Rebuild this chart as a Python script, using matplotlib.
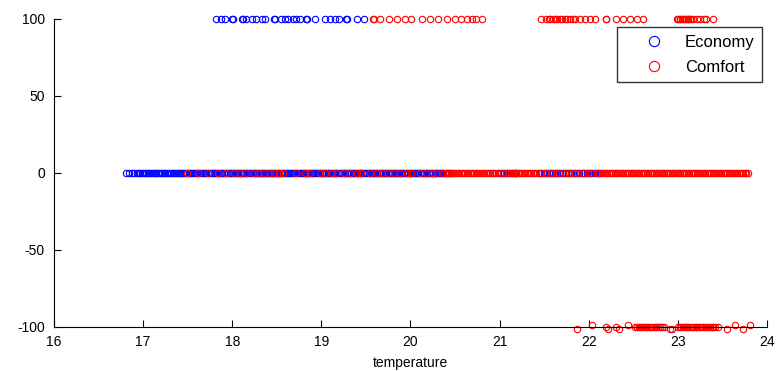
import matplotlib
matplotlib.use("Agg")
import matplotlib.pyplot as plt

plt.rcParams['font.family'] = ['Liberation Sans', 'DejaVu Sans']
plt.rcParams['axes.unicode_minus'] = False

# ---- data ----
blue_top_x = [17.82, 17.87, 17.92, 18.00, 18.01, 18.11, 18.12, 18.16, 18.22, 18.27,
              18.33, 18.37, 18.47, 18.48, 18.55, 18.59, 18.63, 18.68, 18.72, 18.76,
              18.83, 18.84, 18.93, 19.04, 19.10, 19.15, 19.20, 19.28, 19.29, 19.40,
              19.48]

blue_mid_x = [
    16.81, 16.84, 16.87, 16.90, 16.93, 16.95, 16.97, 16.99,
    17.01, 17.03, 17.05, 17.07, 17.09, 17.11, 17.13, 17.15, 17.17, 17.19,
    17.21, 17.23, 17.25, 17.27, 17.29, 17.31, 17.33, 17.35, 17.37, 17.39,
    17.41, 17.43, 17.45, 17.47, 17.49, 17.51, 17.53, 17.55, 17.57, 17.59,
    17.61, 17.63, 17.65, 17.67, 17.69, 17.71, 17.73, 17.75, 17.77, 17.79,
    17.81, 17.83, 17.85, 17.87, 17.89, 17.91, 17.93, 17.95, 17.97, 17.99,
    18.01, 18.03, 18.05, 18.07, 18.09, 18.11, 18.13, 18.15, 18.17, 18.19,
    18.21, 18.23, 18.25, 18.27, 18.29, 18.31, 18.33, 18.35, 18.37, 18.39,
    18.41, 18.43, 18.45, 18.47, 18.49, 18.51, 18.53, 18.55, 18.57, 18.59,
    18.61, 18.63, 18.65, 18.67, 18.69, 18.71, 18.73, 18.75, 18.77, 18.79,
    18.81, 18.83, 18.85, 18.87, 18.89, 18.91, 18.93, 18.95, 18.97, 18.99,
    19.01, 19.03, 19.05, 19.07, 19.09, 19.11, 19.13, 19.15, 19.17, 19.19,
    19.21, 19.23, 19.25, 19.27, 19.29, 19.31, 19.33, 19.35, 19.37, 19.39,
    19.41, 19.43, 19.45, 19.47, 19.49, 19.51, 19.53, 19.55, 19.57, 19.59,
    19.61, 19.63, 19.65, 19.67, 19.69, 19.71, 19.73, 19.75, 19.77, 19.79,
    19.81, 19.83, 19.85, 19.87, 19.89, 19.91, 19.93, 19.95, 19.97, 19.99,
    20.01, 20.03, 20.05, 20.07, 20.09, 20.11, 20.13, 20.15, 20.17, 20.19,
    20.21, 20.23, 20.25, 20.27, 20.29, 20.31, 20.33, 20.35, 20.37, 20.39,
    20.41, 20.43,
    20.98, 21.02, 21.05, 21.08, 21.11, 21.14, 21.17, 21.19,
    21.44, 21.47, 21.50, 21.53, 21.56, 21.59, 21.62, 21.65, 21.68, 21.71,
    21.74, 21.77, 21.80, 21.83, 21.86, 21.89, 21.92, 21.95, 21.98, 22.01,
    22.04, 22.07, 22.10, 22.13]

red_top_x = [19.58, 19.59, 19.66, 19.76, 19.85, 19.94, 20.01, 20.13, 20.22, 20.31,
             20.41, 20.50, 20.57, 20.63, 20.69, 20.74, 20.80,
             21.47, 21.52, 21.55, 21.57, 21.60, 21.62, 21.65, 21.68, 21.70, 21.73,
             21.76, 21.79, 21.82, 21.85, 21.90, 21.96, 22.01, 22.07, 22.19, 22.20,
             22.31, 22.38, 22.46, 22.54, 22.61,
             22.99, 23.00, 23.02, 23.03, 23.05, 23.06, 23.08, 23.09, 23.11, 23.12,
             23.14, 23.15, 23.17, 23.21, 23.25, 23.29, 23.32, 23.39]

red_mid_x = [
    17.49, 17.62, 17.73, 17.84, 17.93, 18.02, 18.09, 18.16, 18.24, 18.29,
    18.36, 18.42, 18.47, 18.52, 18.57, 18.72, 18.82, 18.87, 18.98, 19.04,
    19.12, 19.17, 19.25, 19.32, 19.40, 19.45, 19.55, 19.62, 19.68, 19.75,
    19.81, 19.88, 19.96, 20.01, 20.11, 20.18, 20.24, 20.29, 20.37,
    20.41, 20.43, 20.45, 20.47, 20.49, 20.51, 20.53, 20.55, 20.57, 20.59,
    20.61, 20.63, 20.65, 20.67, 20.69, 20.71, 20.73, 20.75, 20.77, 20.79,
    20.81, 20.83, 20.85, 20.87, 20.89, 20.91, 20.93, 20.95,
    21.00, 21.04, 21.09,
    21.13, 21.15, 21.17, 21.19, 21.21, 21.23, 21.25, 21.27, 21.29, 21.31,
    21.33, 21.35, 21.37, 21.39, 21.41,
    21.46, 21.52, 21.58, 21.63, 21.67, 21.73, 21.78, 21.84, 21.88, 21.94,
    21.99, 22.03, 22.09, 22.12,
    22.15, 22.17, 22.19, 22.21, 22.23, 22.25, 22.27, 22.29, 22.31, 22.33,
    22.35, 22.37, 22.39, 22.41, 22.43, 22.45, 22.47, 22.49, 22.51, 22.53,
    22.55, 22.57, 22.59, 22.61, 22.63, 22.65, 22.67, 22.69, 22.71, 22.73,
    22.75, 22.77, 22.79, 22.81, 22.83, 22.85, 22.87, 22.89, 22.91, 22.93,
    22.95, 22.97, 22.99, 23.01, 23.03, 23.05, 23.07, 23.09, 23.11, 23.13,
    23.15, 23.17, 23.19, 23.21, 23.23, 23.25, 23.27, 23.29, 23.31, 23.33,
    23.35, 23.37, 23.39, 23.41, 23.43, 23.45, 23.47, 23.49, 23.51, 23.53,
    23.55, 23.57, 23.59, 23.61, 23.63, 23.65, 23.67, 23.69, 23.71, 23.73,
    23.75, 23.77, 23.79]

red_bot_x = [21.87, 22.04, 22.20, 22.22, 22.31, 22.34, 22.44,
             22.52, 22.54, 22.56, 22.58, 22.60, 22.62, 22.64, 22.66, 22.68, 22.70,
             22.72, 22.74, 22.76, 22.78, 22.80, 22.82, 22.84,
             22.91, 22.93,
             23.00, 23.02, 23.04, 23.06, 23.08, 23.10, 23.12, 23.14, 23.16, 23.18,
             23.20, 23.22, 23.24, 23.26, 23.28, 23.30, 23.32, 23.34, 23.36, 23.38,
             23.40, 23.42,
             23.45, 23.55, 23.64, 23.73, 23.81]
red_bot_y = [-101, -99, -100, -101, -100, -101, -99,
             -100, -100, -100, -100, -100, -100, -100, -100, -100, -100,
             -100, -100, -100, -100, -100, -100, -100,
             -101, -101,
             -100, -100, -100, -100, -100, -100, -100, -100, -100, -100,
             -100, -100, -100, -100, -100, -100, -100, -100, -100, -100,
             -100, -100,
             -100, -101, -99, -101, -99]

x_ticks = [16, 17, 18, 19, 20, 21, 22, 23, 24]
y_ticks = [-100, -50, 0, 50, 100]

# ---- figure ----
fig = plt.figure(figsize=(7.77, 3.71), dpi=100)
ax = fig.add_axes([0.0695, 0.1186, 0.9175, 0.8302])

mk = dict(linestyle='none', marker='o', markerfacecolor='none',
          markersize=4.6, markeredgewidth=0.8, clip_on=False)

blue_x = blue_top_x + blue_mid_x
blue_y = [100] * len(blue_top_x) + [0] * len(blue_mid_x)
red_x = red_top_x + red_mid_x + red_bot_x
red_y = [100] * len(red_top_x) + [0] * len(red_mid_x) + red_bot_y

ax.plot(blue_x, blue_y, color='#0000ff', label='Economy', **mk)
ax.plot(red_x, red_y, color='#ff0000', label='Comfort', **mk)

ax.set_xlim(16, 24)
ax.set_ylim(-100, 100)
ax.set_xticks(x_ticks)
ax.set_yticks(y_ticks)
ax.spines['top'].set_visible(False)
ax.spines['right'].set_visible(False)
for s in ('left', 'bottom'):
    ax.spines[s].set_linewidth(0.8)
ax.tick_params(direction='in', length=5, width=0.8, labelsize=10)
ax.tick_params(axis='x', pad=5.5)
ax.tick_params(axis='y', pad=6.5)
ax.set_xlabel('temperature', fontsize=10, labelpad=5.5)

leg = ax.legend(loc='upper right', bbox_to_anchor=(0.993, 0.974),
                frameon=True, fancybox=False, edgecolor='black',
                fontsize=12, markerscale=1.6, handlelength=3.5,
                handletextpad=0.1, borderpad=0.45, labelspacing=0.6,
                borderaxespad=0)
leg.get_frame().set_linewidth(1.0)

fig.savefig('out.png', dpi=100)
